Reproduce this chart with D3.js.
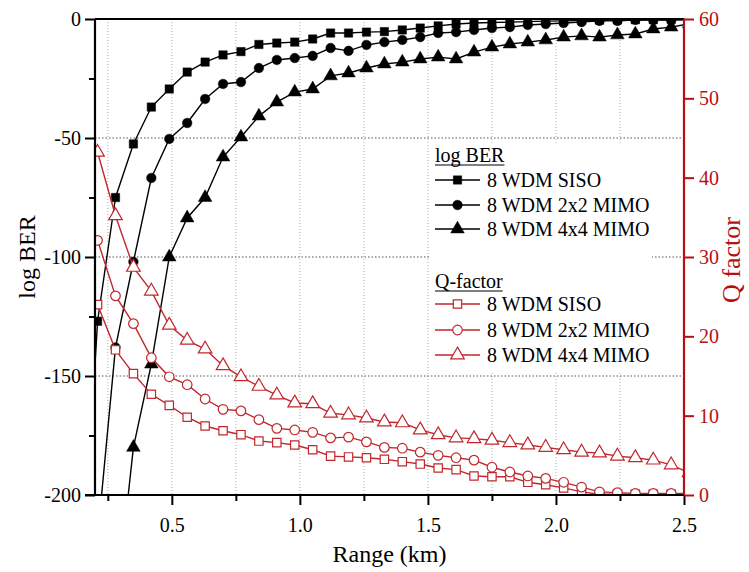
<!DOCTYPE html>
<html><head><meta charset="utf-8">
<script src="https://cdn.jsdelivr.net/npm/d3@7"></script>
<style>body{margin:0;background:#fff}svg{display:block}</style>
</head><body>
<svg id="c" width="749" height="572"></svg>
<script>
const rangeKm = [0.14,0.21,0.28,0.35,0.42,0.49,0.56,0.63,0.70,0.77,0.84,0.91,0.98,1.05,1.12,1.19,1.26,1.33,1.40,1.47,1.54,1.61,1.68,1.75,1.82,1.89,1.96,2.03,2.10,2.17,2.24,2.31,2.38,2.45,2.52];
const berSiso = [-254,-127,-75,-52.5,-37,-29.4,-22.3,-18.1,-15.1,-13.7,-10.7,-10.1,-9.7,-8.4,-5.9,-5.9,-5.5,-5.3,-4.6,-3.8,-2.9,-2.1,-1.7,-1.5,-1.3,-1.1,-0.9,-0.8,-0.6,-0.5,-0.4,-0.3,-0.3,-0.2,-0.2];
const ber2x2 = [-300,-218,-138,-102,-66.8,-50.4,-43.7,-33.6,-27.3,-26.5,-20.6,-17.2,-16.4,-15.5,-12.2,-13.4,-10.9,-9.7,-8.8,-7.6,-5.9,-5.5,-4.6,-3.8,-3.4,-2.5,-2.1,-1.7,-1.3,-0.8,-0.8,-0.4,-0.4,-0.4,-0.3];
const ber4x4 = [-420,-330,-249,-180,-145,-100,-83.6,-75,-58,-49.6,-40.8,-34.9,-30.7,-29.4,-23.9,-22.7,-20.6,-18.9,-18.1,-16.8,-16.0,-16.8,-13.9,-11.8,-10.5,-9.7,-8.8,-7.6,-7.1,-7.6,-6.7,-6.3,-4.2,-3.4,-2.0];
const qSiso = [28,24,18.3,15.3,12.7,11.3,9.8,8.7,8.1,7.6,6.8,6.6,6.3,5.7,4.9,4.8,4.7,4.5,4.2,3.9,3.4,3.2,2.4,2.3,2.3,1.6,1.3,0.9,0.4,0.1,0.1,0.1,0.1,0.1,0.1];
const q2x2 = [37,32.1,25.1,21.6,17.3,14.9,13.9,12.1,10.8,10.6,9.5,8.4,8.2,7.9,7.2,7.3,6.7,6.0,5.9,5.4,5.0,4.7,4.4,3.5,2.9,2.4,2.1,1.6,1.0,0.4,0.3,0.2,0.2,0.2,0.2];
const q4x4 = [50,43.2,35.2,28.7,25.7,21.4,19.5,18.4,16.3,14.9,13.7,12.6,11.6,11.5,10.3,10.1,9.7,9.2,9.1,8.2,7.6,7.2,7.1,6.9,6.6,6.3,6.0,5.7,5.4,5.3,4.9,4.7,4.4,3.8,2.8];
const seriesNames = ["8 WDM SISO","8 WDM 2x2 MIMO","8 WDM 4x4 MIMO"];
const xTicks = [0.5,1.0,1.5,2.0,2.5];
const xMinorTicks = [0.25,0.75,1.25,1.75,2.25];
const xGrid = [0.25,0.5,0.75,1.0,1.25,1.5,1.75,2.0,2.25];
const yLeftTicks = [0,-50,-100,-150,-200];
const yLeftMinor = [-25,-75,-125,-175];
const yRightTicks = [0,10,20,30,40,50,60];

const RED = "#c0282d", AXRED = "#b80f14";
const FONT = "'Liberation Serif','Times New Roman',serif";
const L = 95, R = 684, T = 19, B = 495;
const svg = d3.select("#c");
const x = d3.scaleLinear().domain([0.2,2.5]).range([L,R]);
const yL = d3.scaleLinear().domain([-200,0]).range([B,T]);
const yR = d3.scaleLinear().domain([0,60]).range([B,T]);

svg.append("defs").append("clipPath").attr("id","clip")
  .append("rect").attr("x",L).attr("y",T).attr("width",R-L).attr("height",B-T);

// gridlines
const grid = svg.append("g");
grid.selectAll("line.v").data(xGrid).join("line")
  .attr("x1",d=>x(d)).attr("x2",d=>x(d)).attr("y1",T).attr("y2",B)
  .attr("stroke","#b0b0b0").attr("stroke-width",1).attr("stroke-dasharray","1,2");
grid.selectAll("line.h").data([-50,-100,-150]).join("line")
  .attr("x1",L).attr("x2",R).attr("y1",d=>yL(d)).attr("y2",d=>yL(d))
  .attr("stroke","#555").attr("stroke-width",1.2).attr("stroke-dasharray","1.5,2");

// legend background hides grid
svg.append("rect").attr("x",431).attr("y",143).attr("width",221).attr("height",229).attr("fill","#fff");

const plot = svg.append("g").attr("clip-path","url(#clip)");
const sym = [d3.symbolSquare, d3.symbolCircle, d3.symbolTriangle];
const symSize = [70, 72, 80];
function drawSeries(vals, yScale, i, color, filled){
  const pts = rangeKm.map((r,k)=>[x(r), yScale(vals[k])]);
  plot.append("path").attr("d", d3.line()(pts)).attr("fill","none")
    .attr("stroke",color).attr("stroke-width",1.4);
  plot.append("g").selectAll("path").data(pts).join("path")
    .attr("transform",d=>`translate(${d[0]},${d[1]})`)
    .attr("d", d3.symbol().type(sym[i]).size(symSize[i]))
    .attr("fill", filled ? color : "#fff")
    .attr("stroke", color).attr("stroke-width", filled?0.5:1.2);
}
[berSiso, ber2x2, ber4x4].forEach((v,i)=>drawSeries(v,yL,i,"#000",true));
[qSiso, q2x2, q4x4].forEach((v,i)=>drawSeries(v,yR,i,RED,false));

// top frame line
svg.append("line").attr("x1",L).attr("x2",R).attr("y1",T).attr("y2",T).attr("stroke","#000").attr("stroke-width",2);

// left axis
const gL = svg.append("g").attr("transform",`translate(${L},0)`)
  .call(d3.axisLeft(yL).tickValues(yLeftTicks).tickSize(10).tickFormat(d=>String(d)));
const gLm = svg.append("g").attr("transform",`translate(${L},0)`)
  .call(d3.axisLeft(yL).tickValues(yLeftMinor).tickSize(6).tickFormat(""));
// bottom axis
const gB = svg.append("g").attr("transform",`translate(0,${B})`)
  .call(d3.axisBottom(x).tickValues(xTicks).tickSize(10).tickFormat(d3.format(".1f")));
const gBm = svg.append("g").attr("transform",`translate(0,${B})`)
  .call(d3.axisBottom(x).tickValues(xMinorTicks).tickSize(6).tickFormat(""));
// right axis
const gR = svg.append("g").attr("transform",`translate(${R},0)`)
  .call(d3.axisRight(yR).tickValues(yRightTicks).tickSize(10));

gLm.select(".domain").remove();
gBm.select(".domain").remove();
svg.selectAll(".domain").attr("stroke-width",2.2);
svg.selectAll(".tick line").attr("stroke-width",2);
svg.selectAll("g text").attr("font-family",FONT).attr("font-size",20).attr("fill","#000");
gL.selectAll("text").attr("x",-14);
gB.selectAll("text").attr("dy","1.2em");
gR.selectAll(".domain, .tick line").attr("stroke",AXRED);
gR.selectAll("text").attr("fill",AXRED).attr("x",15);
gL.select(".domain").attr("d",`M0,${T}V${B}`);
gB.select(".domain").attr("d",`M${L-10},0H${R}`);
gR.select(".domain").attr("d",`M0,${T}V${B}`);

// axis titles
svg.append("text").attr("transform",`translate(35,${(T+B)/2}) rotate(-90)`).attr("text-anchor","middle")
  .attr("font-family",FONT).attr("font-size",24).text("log BER");
svg.append("text").attr("x",(L+R)/2).attr("y",562).attr("text-anchor","middle")
  .attr("font-family",FONT).attr("font-size",24).text("Range (km)");
svg.append("text").attr("transform",`translate(740,${(T+B)/2+3}) rotate(-90)`).attr("text-anchor","middle")
  .attr("font-family",FONT).attr("font-size",26).attr("fill",AXRED).text("Q factor");

// legend
const lg = svg.append("g").attr("font-family",FONT).attr("font-size",20);
function legendBlock(title, ty, rows, color, filled){
  const t = lg.append("text").attr("x",435).attr("y",ty).text(title);
  const w = t.node().getComputedTextLength();
  lg.append("line").attr("x1",435).attr("x2",435+w).attr("y1",ty+3).attr("y2",ty+3).attr("stroke","#000").attr("stroke-width",1.2);
  rows.forEach((ry,i)=>{
    lg.append("line").attr("x1",435).attr("x2",480).attr("y1",ry).attr("y2",ry).attr("stroke",color).attr("stroke-width",1.4);
    lg.append("path").attr("transform",`translate(457.5,${ry})`).attr("d",d3.symbol().type(sym[i]).size(symSize[i]))
      .attr("fill",filled?color:"#fff").attr("stroke",color).attr("stroke-width",filled?0.5:1.2);
    lg.append("text").attr("x",487).attr("y",ry+7).text(seriesNames[i]);
  });
}
legendBlock("log BER",162,[180,205,229],"#000",true);
legendBlock("Q-factor",288,[304,330,355],RED,false);
</script>
</body></html>
